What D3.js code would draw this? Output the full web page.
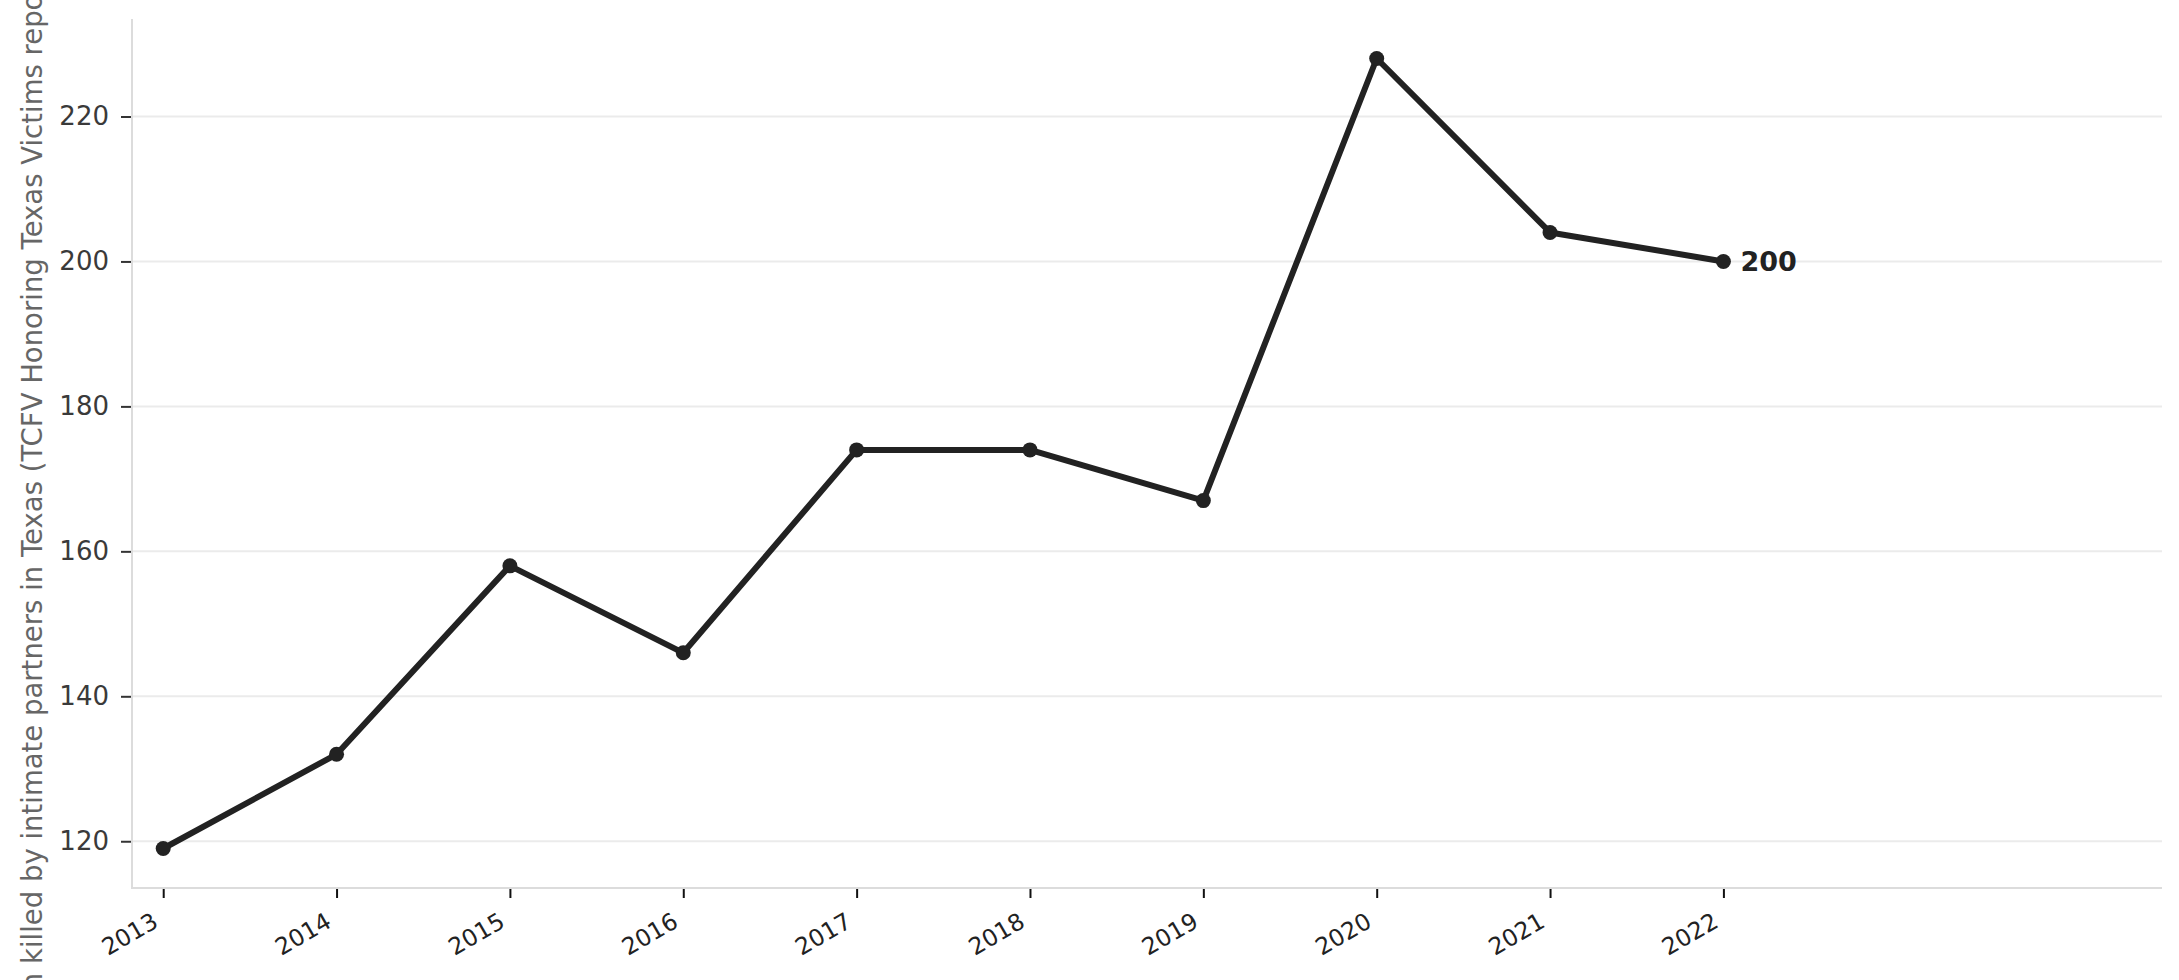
<!DOCTYPE html>
<meta charset="utf-8">
<style>
  body { margin: 0; background: #fff; }
  svg { display: block; font-family: "DejaVu Sans", sans-serif; }
  .grid line { stroke: #ebebeb; stroke-width: 2; }
  .spine { stroke: #dcdcdc; stroke-width: 2; fill: none; }
</style>
<body>
<script src="https://cdn.jsdelivr.net/npm/d3@7"></script>
<script>
// women killed by intimate partners in Texas, per year
const years = [2013, 2014, 2015, 2016, 2017, 2018, 2019, 2020, 2021, 2022];
const victims = [119, 132, 158, 146, 174, 174, 167, 228, 204, 200];
const yTicks = [120, 140, 160, 180, 200, 220];
const yLabel = 'Number of women killed by intimate partners in Texas (TCFV Honoring Texas Victims report)';

const width = 2179, height = 980;
const plot = {left: 132, right: 2162, top: 19, bottom: 888};
const fontFamily = '"DejaVu Sans", sans-serif';

const x = d3.scaleLinear()
  .domain([2012.82, 2024.53])
  .range([plot.left, plot.right]);

const y = d3.scaleLinear()
  .domain([113.55, 233.45])
  .range([plot.bottom, plot.top]);

const svg = d3.select('body').append('svg')
  .attr('width', width)
  .attr('height', height);

// horizontal grid
svg.append('g')
  .attr('class', 'grid')
  .selectAll('line')
  .data(yTicks)
  .enter().append('line')
    .attr('x1', plot.left)
    .attr('x2', plot.right)
    .attr('y1', d => y(d))
    .attr('y2', d => y(d));

// spines (left + bottom only)
svg.append('path')
  .attr('class', 'spine')
  .attr('d', `M${plot.left},${plot.top}V${plot.bottom}H${plot.right}`);

// y axis
const yAxis = svg.append('g')
  .attr('transform', `translate(${plot.left - 1},0)`)
  .call(d3.axisLeft(y).tickValues(yTicks).tickSize(10).tickPadding(12))
  .attr('font-family', fontFamily)
  .attr('font-size', 26);
yAxis.select('.domain').remove();
yAxis.selectAll('.tick line').attr('stroke', '#333').attr('stroke-width', 2);
yAxis.selectAll('.tick text').attr('fill', '#3a3a3a');

// x axis
const xAxis = svg.append('g')
  .attr('transform', `translate(0,${plot.bottom + 1})`)
  .call(d3.axisBottom(x).tickValues(years).tickFormat(d3.format('d')).tickSize(9))
  .attr('font-family', fontFamily)
  .attr('font-size', 23.5);
xAxis.select('.domain').remove();
xAxis.selectAll('.tick line').attr('stroke', '#111').attr('stroke-width', 2);
xAxis.selectAll('.tick text')
  .attr('fill', '#222')
  .attr('text-anchor', 'end')
  .attr('x', 0)
  .attr('y', 0)
  .attr('dy', 0)
  .attr('transform', 'translate(-4,37) rotate(-30)');

// y axis title: runs off the canvas like the original; place it so that
// "killed" starts at the same height as in the picture
const title = svg.append('text')
  .attr('text-anchor', 'start')
  .attr('fill', '#666')
  .attr('font-size', 27.5)
  .text(yLabel);
const pre = title.node().getSubStringLength(0, yLabel.indexOf('killed'));
title.attr('transform', `translate(42,${964 + pre}) rotate(-90)`);

const pts = years.map((d, i) => ({year: d, value: victims[i]}));

const line = d3.line()
  .x(d => x(d.year))
  .y(d => y(d.value));

svg.append('path')
  .datum(pts)
  .attr('fill', 'none')
  .attr('stroke', '#222')
  .attr('stroke-width', 6)
  .attr('stroke-linejoin', 'round')
  .attr('d', line);

svg.append('g')
  .selectAll('circle')
  .data(pts)
  .enter().append('circle')
    .attr('cx', d => x(d.year))
    .attr('cy', d => y(d.value))
    .attr('r', 7.5)
    .attr('fill', '#222');

// end label
const last = pts[pts.length - 1];
svg.append('text')
  .attr('x', x(last.year) + 17)
  .attr('y', y(last.value))
  .attr('dy', '0.35em')
  .attr('fill', '#222')
  .attr('font-size', 27)
  .attr('font-weight', 'bold')
  .text(last.value);
</script>
</body>
